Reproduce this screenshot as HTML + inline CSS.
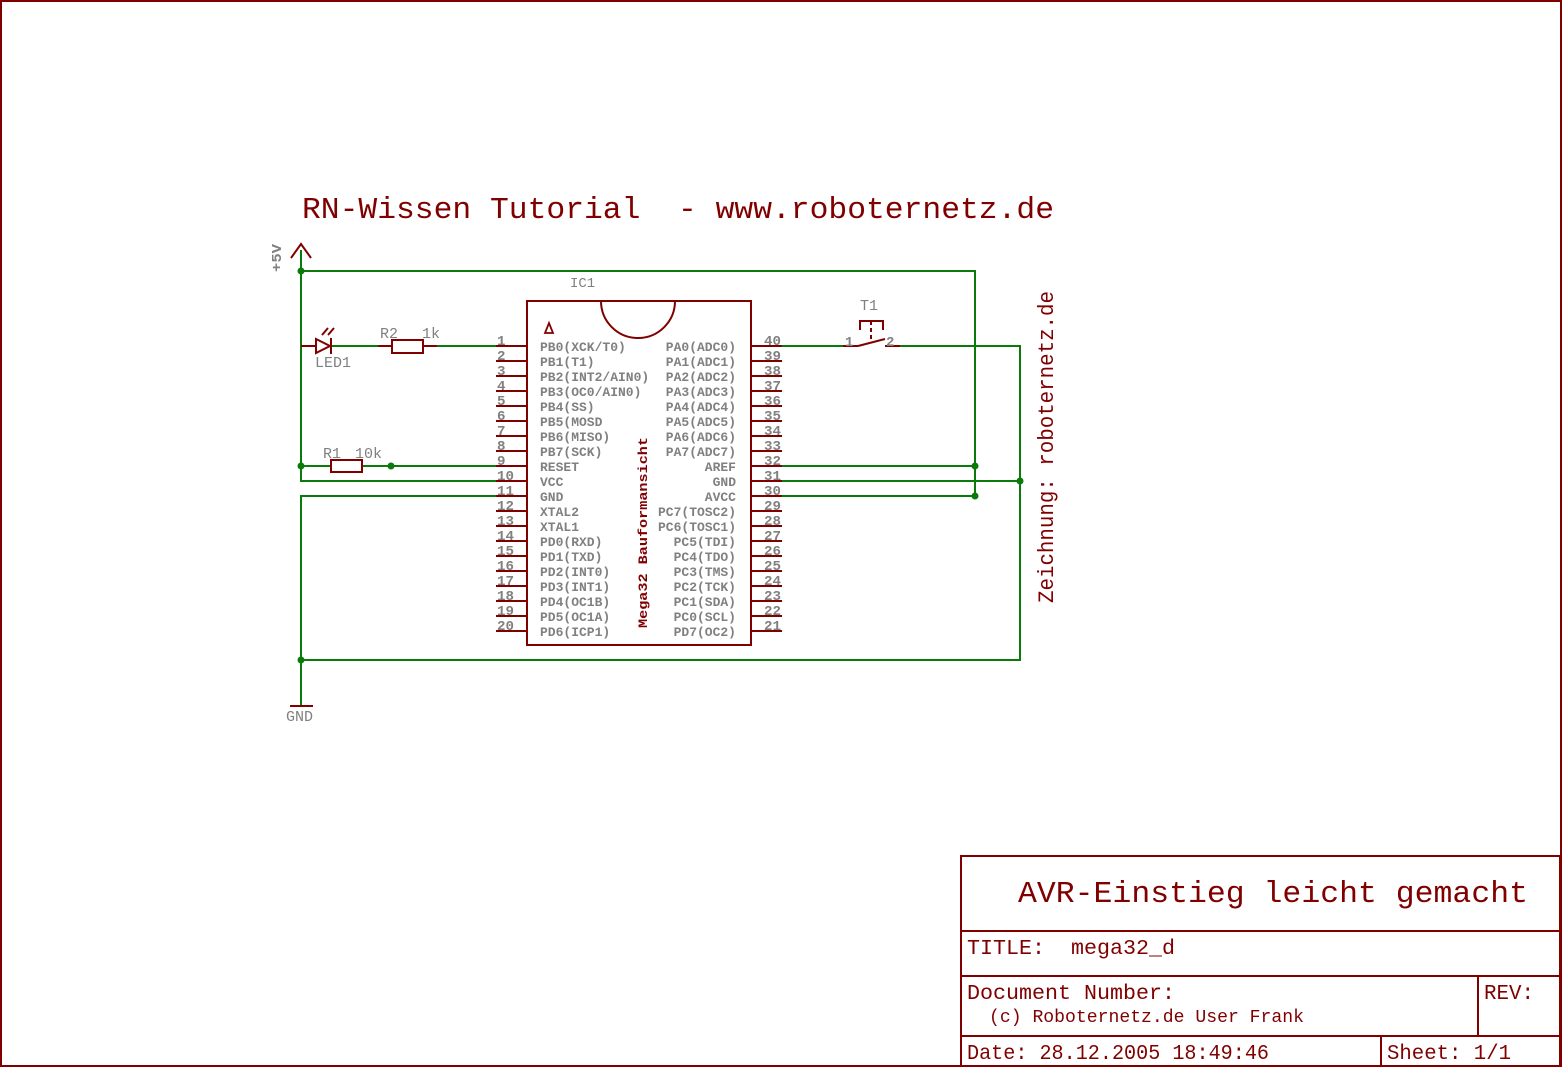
<!DOCTYPE html>
<html><head><meta charset="utf-8"><style>
html,body{margin:0;padding:0;background:#fff;}
svg{display:block;}
text{font-family:"Liberation Mono",monospace;white-space:pre;}
.r{fill:#800000;}
.g{fill:#808080;}
</style></head><body>
<svg width="1563" height="1068" viewBox="0 0 1563 1068" xmlns="http://www.w3.org/2000/svg">
<rect x="1" y="1" width="1560" height="1065" fill="none" stroke="#800000" stroke-width="2"/>
<g stroke="#800000" stroke-width="2" fill="none">
<rect x="961" y="856" width="599" height="210"/>
<line x1="961" y1="931" x2="1560" y2="931"/>
<line x1="961" y1="976" x2="1560" y2="976"/>
<line x1="961" y1="1036" x2="1560" y2="1036"/>
<line x1="1478" y1="976" x2="1478" y2="1036"/>
<line x1="1381" y1="1036" x2="1381" y2="1066"/>
</g>
<text class="r" x="1018" y="902" font-size="31" textLength="510" lengthAdjust="spacingAndGlyphs">AVR-Einstieg leicht gemacht</text>
<text class="r" x="967" y="954" font-size="21" textLength="208" lengthAdjust="spacingAndGlyphs">TITLE:&#160; mega32_d</text>
<text class="r" x="967" y="999" font-size="21" textLength="208" lengthAdjust="spacingAndGlyphs">Document Number:</text>
<text class="r" x="989" y="1022" font-size="18" textLength="315" lengthAdjust="spacingAndGlyphs">(c) Roboternetz.de User Frank</text>
<text class="r" x="1484" y="999" font-size="21" textLength="50" lengthAdjust="spacingAndGlyphs">REV:</text>
<text class="r" x="967" y="1059" font-size="21" textLength="302" lengthAdjust="spacingAndGlyphs">Date: 28.12.2005 18:49:46</text>
<text class="r" x="1387" y="1059" font-size="21" textLength="124" lengthAdjust="spacingAndGlyphs">Sheet: 1/1</text>
<text class="r" x="302" y="218" font-size="31" textLength="752" lengthAdjust="spacingAndGlyphs">RN-Wissen Tutorial&#160; - www.roboternetz.de</text>
<text class="r" font-size="22" transform="translate(1053,603) rotate(-90)" textLength="312" lengthAdjust="spacingAndGlyphs">Zeichnung: roboternetz.de</text>
<g stroke="#0a7a0a" stroke-width="2" fill="none">
<polyline points="301,250 301,481 496,481"/>
<polyline points="301,271 975,271 975,496"/>
<line x1="301" y1="466" x2="331" y2="466"/>
<line x1="362" y1="466" x2="496" y2="466"/>
<line x1="782" y1="466" x2="975" y2="466"/>
<line x1="782" y1="496" x2="975" y2="496"/>
<line x1="782" y1="481" x2="1020" y2="481"/>
<line x1="782" y1="346" x2="843" y2="346"/>
<polyline points="900,346 1020,346 1020,660 301,660"/>
<polyline points="496,496 301,496 301,705"/>
<line x1="332" y1="346" x2="378" y2="346"/>
<line x1="437" y1="346" x2="496" y2="346"/>
</g>
<g fill="#0a7a0a">
<circle cx="301" cy="271" r="3.5"/><circle cx="301" cy="466" r="3.5"/><circle cx="391" cy="466" r="3.5"/>
<circle cx="975" cy="466" r="3.5"/><circle cx="975" cy="496" r="3.5"/><circle cx="1020" cy="481" r="3.5"/>
<circle cx="301" cy="660" r="3.5"/>
</g>
<g stroke="#800000" stroke-width="2" fill="none">
<polyline points="291,258 301,244 311,258"/>
<line x1="290" y1="706" x2="313" y2="706"/>
<line x1="301" y1="346" x2="316" y2="346"/>
<polygon points="316,339 316,353 330,346"/>
<line x1="331" y1="338" x2="331" y2="354"/>
<line x1="322" y1="335" x2="328" y2="328"/><line x1="328" y1="335" x2="334" y2="328"/>
<rect x="392" y="340" width="31" height="13"/>
<line x1="378" y1="346" x2="392" y2="346"/><line x1="423" y1="346" x2="437" y2="346"/>
<rect x="331" y="460" width="31" height="12"/>
<rect x="527" y="301" width="224" height="344"/>
<path d="M601,301 A37,37 0 0 0 675,301" />
<line x1="843" y1="346" x2="858" y2="346"/>
<line x1="858" y1="346" x2="885" y2="339"/>
<line x1="885" y1="346" x2="900" y2="346"/>
<polyline points="860,330 860,321 883,321 883,330"/>
<line x1="871" y1="321" x2="871" y2="342" stroke-dasharray="4,3"/>
</g>
<path d="M545,333 L549,323 L553,333 Z" fill="none" stroke="#800000" stroke-width="1.8"/>
<g id="pins" stroke="#800000" stroke-width="2"></g>
<text class="g" x="281" y="272" font-size="14" font-weight="bold" transform="rotate(-90 281 272)" textLength="28" lengthAdjust="spacingAndGlyphs">+5V</text>
<text class="g" x="286" y="721" font-size="15">GND</text>
<text class="g" x="315" y="367" font-size="15">LED1</text>
<text class="g" x="380" y="338" font-size="15">R2</text>
<text class="g" x="422" y="338" font-size="15">1k</text>
<text class="g" x="323" y="458" font-size="15">R1</text>
<text class="g" x="355" y="458" font-size="15">10k</text>
<text class="g" x="570" y="287" font-size="14">IC1</text>
<text class="g" x="860" y="310" font-size="15">T1</text>
<text class="g" x="845" y="346" font-size="14" font-weight="bold">1</text>
<text class="g" x="886" y="346" font-size="14" font-weight="bold">2</text>
<text class="r" font-size="13" font-weight="bold" transform="translate(647,628) rotate(-90)" textLength="191" lengthAdjust="spacingAndGlyphs">Mega32 Bauformansicht</text>
<g id="lbl"></g>
</svg>
<script>
(function(){
var ns="http://www.w3.org/2000/svg";
var pins=document.getElementById("pins"),lbl=document.getElementById("lbl");
var L=["PB0(XCK/T0)","PB1(T1)","PB2(INT2/AIN0)","PB3(OC0/AIN0)","PB4(SS)","PB5(MOSD","PB6(MISO)","PB7(SCK)","RESET","VCC","GND","XTAL2","XTAL1","PD0(RXD)","PD1(TXD)","PD2(INT0)","PD3(INT1)","PD4(OC1B)","PD5(OC1A)","PD6(ICP1)"];
var R=["PA0(ADC0)","PA1(ADC1)","PA2(ADC2)","PA3(ADC3)","PA4(ADC4)","PA5(ADC5)","PA6(ADC6)","PA7(ADC7)","AREF","GND","AVCC","PC7(TOSC2)","PC6(TOSC1)","PC5(TDI)","PC4(TDO)","PC3(TMS)","PC2(TCK)","PC1(SDA)","PC0(SCL)","PD7(OC2)"];
function t(x,y,s,anchor,size,len){var e=document.createElementNS(ns,"text");e.setAttribute("x",x);e.setAttribute("y",y);e.setAttribute("class","g");e.setAttribute("font-size",size);e.setAttribute("font-weight","bold");if(anchor)e.setAttribute("text-anchor",anchor);if(len){e.setAttribute("textLength",len);e.setAttribute("lengthAdjust","spacingAndGlyphs");}e.textContent=s;lbl.appendChild(e);}
function l(x1,y1,x2,y2){var e=document.createElementNS(ns,"line");e.setAttribute("x1",x1);e.setAttribute("y1",y1);e.setAttribute("x2",x2);e.setAttribute("y2",y2);pins.appendChild(e);}
for(var i=0;i<20;i++){var y=346+15*i;
l(496,y,527,y);l(751,y,782,y);
t(540,y+5,L[i],null,13,L[i].length*7.8);t(736,y+5,R[i],"end",13,R[i].length*7.8);
var a=String(i+1),b=String(40-i);
t(497,y-1,a,null,14,a.length*8.5);t(764,y-1,b,null,14,b.length*8.5);}
})();
</script>
</body></html>
